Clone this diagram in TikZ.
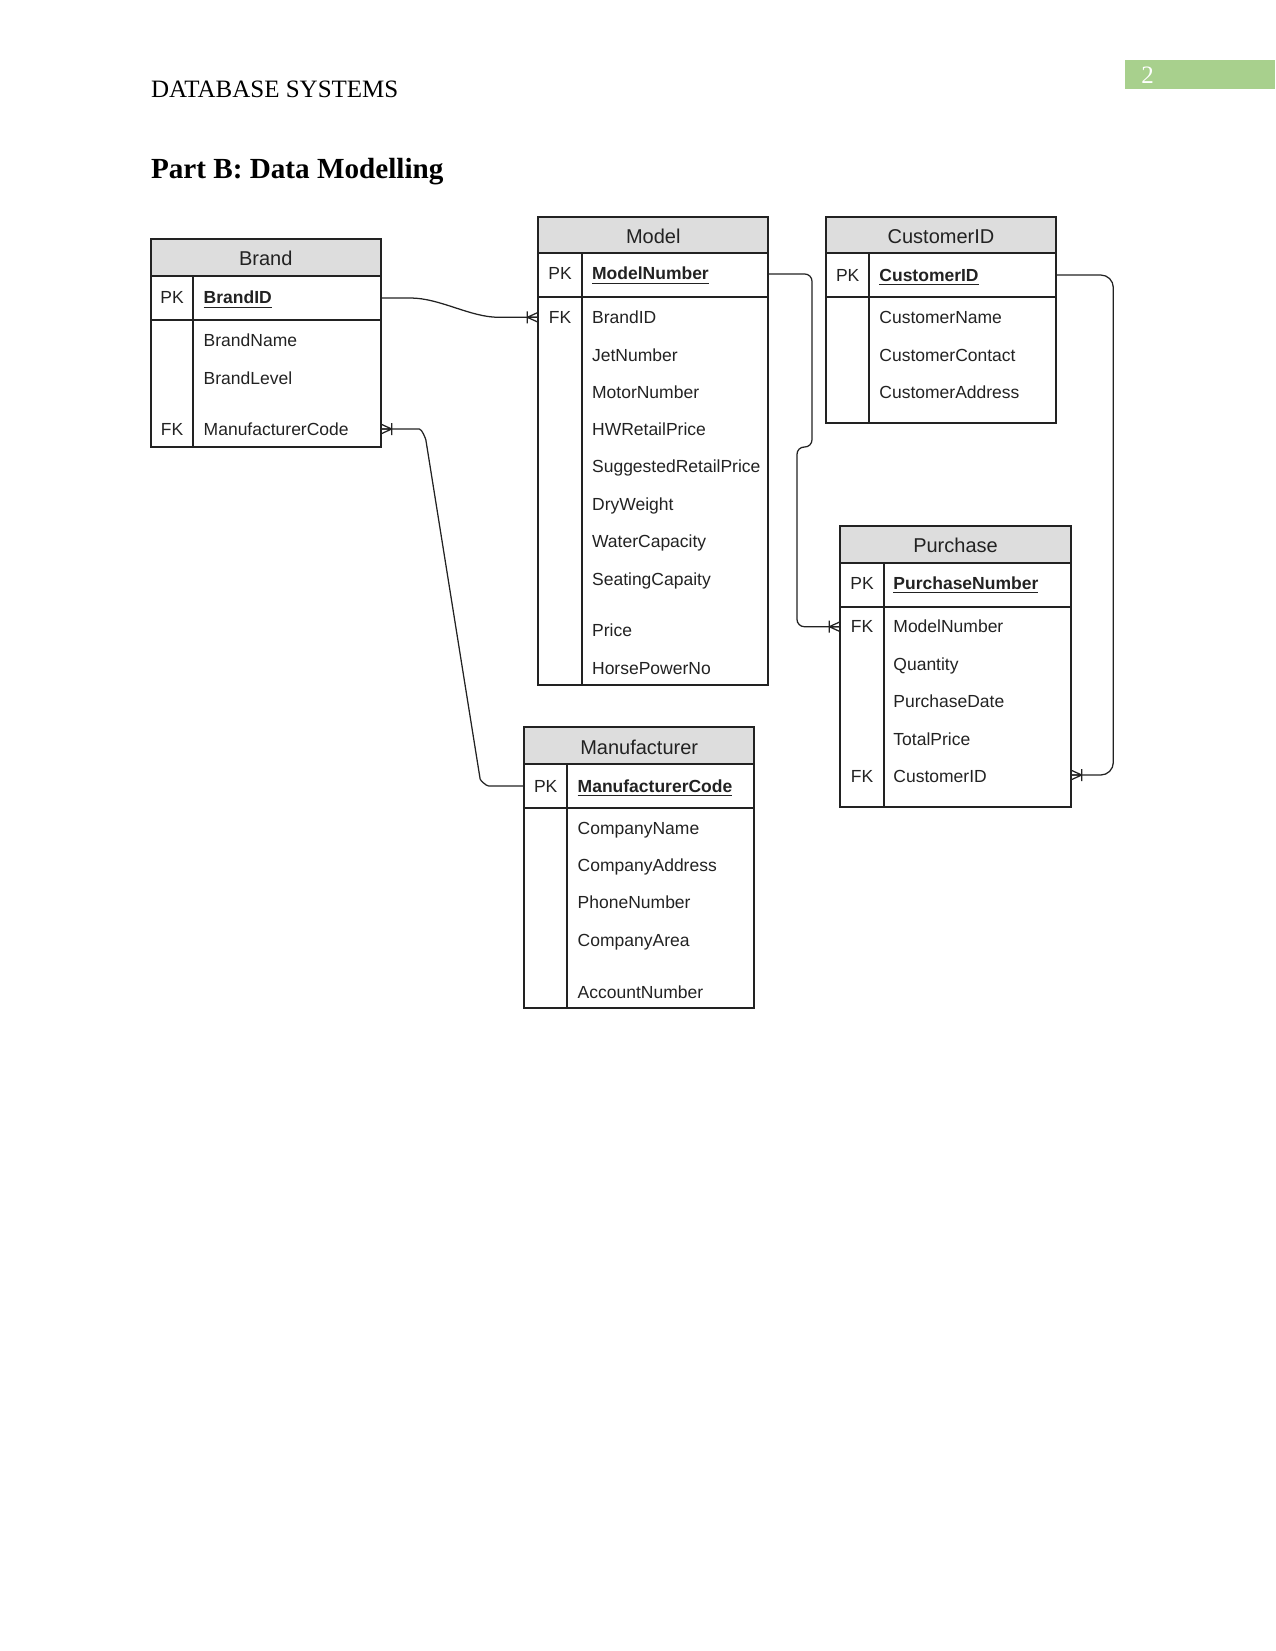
\documentclass[tikz,border=0pt]{standalone}
\usepackage{fontspec}
\setmainfont{Liberation Serif}
\newfontfamily\erfont{Liberation Sans}
\definecolor{pagegreen}{RGB}{168,208,141}
\definecolor{headgray}{RGB}{221,221,221}
\definecolor{erline}{RGB}{34,34,34}
\newcommand{\pkname}[1]{\textbf{\underline{#1}}}

\begin{document}
\begin{tikzpicture} [x=0.48pt,y=-0.48pt,
  box/.style={draw=erline,line width=0.9pt},
  head/.style={font=\erfont\fontsize{9.6}{11}\selectfont,text=erline,inner sep=0pt,anchor=base},
  key/.style={font=\erfont\fontsize{8.4}{10}\selectfont,text=erline,inner sep=0pt,anchor=base},
  attr/.style={font=\erfont\fontsize{8.4}{10}\selectfont,text=erline,inner sep=0pt,anchor=base west},
  link/.style={draw=erline,line width=0.6pt,rounded corners=3.5pt},
  crowfoot/.pic={\draw[erline,line width=0.6pt] (-11,-6) -- (-11,6) (-11,0) -- (0,-5) (-11,0) -- (0,0) (-11,0) -- (0,5);}]

\useasboundingbox (0,0) rectangle (1275,1651);

%\draw [step=100, dotted, thick] (0,0) grid (1275,1651);

\node [anchor=base west,inner sep=0pt,font=\fontsize{12}{14}\selectfont] (runhead) at (150.6,97.7) {DATABASE SYSTEMS};
\node [anchor=base west,inner sep=0pt,font=\bfseries\fontsize{14}{17}\selectfont] (parttitle) at (150.6,178.3) {Part B: Data Modelling};
\fill [pagegreen] (1125,60) rectangle (1275,89);
\node [anchor=base west,inner sep=0pt,text=white,font=\fontsize{12}{14}\selectfont] (pagenum) at (1141,83.3) {2};

\draw [box,fill=headgray] (150.7,239.3) rectangle (380.7,276);
\draw [box] (150.7,276) rectangle (380.7,446.7);
\draw [box] (150.7,320) -- (380.7,320);
\draw [box] (193.3,276) -- (193.3,446.7);
\node [head] (brand) at (265.7,266) {Brand};
\node [key] (brandpk) at (172,304) {PK};
\node [attr] (brandid) at (203.3,304) {\pkname{BrandID}};
\node [attr] (brandname) at (203.3,346.7) {BrandName};
\node [attr] (brandlevel) at (203.3,384) {BrandLevel};
\node [key] (brandfk) at (172,435) {FK};
\node [attr] (brandmanuf) at (203.3,435) {ManufacturerCode};
\coordinate (brandPK) at (380.7,298);
\coordinate (brandMC) at (380.7,429);

\draw [box,fill=headgray] (538.3,217.3) rectangle (768.3,253.3);
\draw [box] (538.3,253.3) rectangle (768.3,685);
\draw [box] (538.3,297.3) -- (768.3,297.3);
\draw [box] (581.7,253.3) -- (581.7,685);
\node [head] (model) at (653.3,243) {Model};
\node [key] (modelpk) at (560,280) {PK};
\node [attr] (modelnumber) at (591.7,280) {\pkname{ModelNumber}};
\node [key] (modelfk) at (560,323.3) {FK};
\node [attr] (modelbrand) at (591.7,323.3) {BrandID};
\node [attr] (jetnumber) at (591.7,361) {JetNumber};
\node [attr] (motornumber) at (591.7,398.3) {MotorNumber};
\node [attr] (hwprice) at (591.7,435.3) {HWRetailPrice};
\node [attr] (sugprice) at (591.7,472.7) {SuggestedRetailPrice};
\node [attr] (dryweight) at (591.7,510) {DryWeight};
\node [attr] (watercap) at (591.7,547.7) {WaterCapacity};
\node [attr] (seatingcap) at (591.7,585) {SeatingCapaity};
\node [attr] (price) at (591.7,636.7) {Price};
\node [attr] (horsepower) at (591.7,674.3) {HorsePowerNo};
\coordinate (modelPK) at (768.3,274);
\coordinate (modelFK) at (538.3,317.3);

\draw [box,fill=headgray] (826,217.3) rectangle (1056,253.3);
\draw [box] (826,253.3) rectangle (1056,423.3);
\draw [box] (826,297.3) -- (1056,297.3);
\draw [box] (869.3,253.3) -- (869.3,423.3);
\node [head] (customer) at (941,243) {CustomerID};
\node [key] (custpk) at (847.7,281) {PK};
\node [attr] (custid) at (879,281) {\pkname{CustomerID}};
\node [attr] (custname) at (879,323.3) {CustomerName};
\node [attr] (custcontact) at (879,361) {CustomerContact};
\node [attr] (custaddress) at (879,398.3) {CustomerAddress};
\coordinate (custPK) at (1056,275);

\draw [box,fill=headgray] (840.3,525.7) rectangle (1070.7,562.7);
\draw [box] (840.3,562.7) rectangle (1070.7,807.3);
\draw [box] (840.3,606.7) -- (1070.7,606.7);
\draw [box] (883.7,562.7) -- (883.7,807.3);
\node [head] (purchase) at (955.5,552) {Purchase};
\node [key] (purchpk) at (862,589.3) {PK};
\node [attr] (purchnumber) at (893,589.3) {\pkname{PurchaseNumber}};
\node [key] (purchfka) at (862,632.7) {FK};
\node [attr] (purchmodel) at (893,632.7) {ModelNumber};
\node [attr] (quantity) at (893,670) {Quantity};
\node [attr] (purchdate) at (893,707.7) {PurchaseDate};
\node [attr] (totalprice) at (893,745) {TotalPrice};
\node [key] (purchfkb) at (862,782.7) {FK};
\node [attr] (purchcust) at (893,782.7) {CustomerID};
\coordinate (purchFKa) at (840.3,626.7);
\coordinate (purchFKb) at (1070.7,775);

\draw [box,fill=headgray] (524,726.7) rectangle (754.3,764);
\draw [box] (524,764) rectangle (754.3,1008.3);
\draw [box] (524,807.7) -- (754.3,807.7);
\draw [box] (567.3,764) -- (567.3,1008.3);
\node [head] (manufacturer) at (639.2,754.3) {Manufacturer};
\node [key] (manufpk) at (545.7,792) {PK};
\node [attr] (manufcode) at (577.3,792) {\pkname{ManufacturerCode}};
\node [attr] (compname) at (577.3,834.3) {CompanyName};
\node [attr] (compaddress) at (577.3,871.7) {CompanyAddress};
\node [attr] (phonenumber) at (577.3,908.7) {PhoneNumber};
\node [attr] (comparea) at (577.3,946) {CompanyArea};
\node [attr] (accountnumber) at (577.3,998.7) {AccountNumber};
\coordinate (manufPK) at (524,786);

\draw [link] (brandPK) -- (403,298) .. controls (440,298) and (470,317.3) .. (506,317.3) -- (modelFK);
\pic at (modelFK) {crowfoot};

\draw [link] (brandMC) -- (412,429) .. controls (422,429) and (425.7,439) .. (427,447) -- (479,772) .. controls (480.3,780) and (486,786) .. (496,786) -- (manufPK);
\pic [rotate=180] at (brandMC) {crowfoot};

\draw [link] (modelPK) -- (812,274) -- (812,447) -- (797,447) -- (797,626.7) -- (purchFKa);
\pic at (purchFKa) {crowfoot};

\draw [link,rounded corners=6pt] (custPK) -- (1113.3,275) -- (1113.3,775) -- (purchFKb);
\pic [rotate=180] at (purchFKb) {crowfoot};

\end{tikzpicture}
\end{document}
